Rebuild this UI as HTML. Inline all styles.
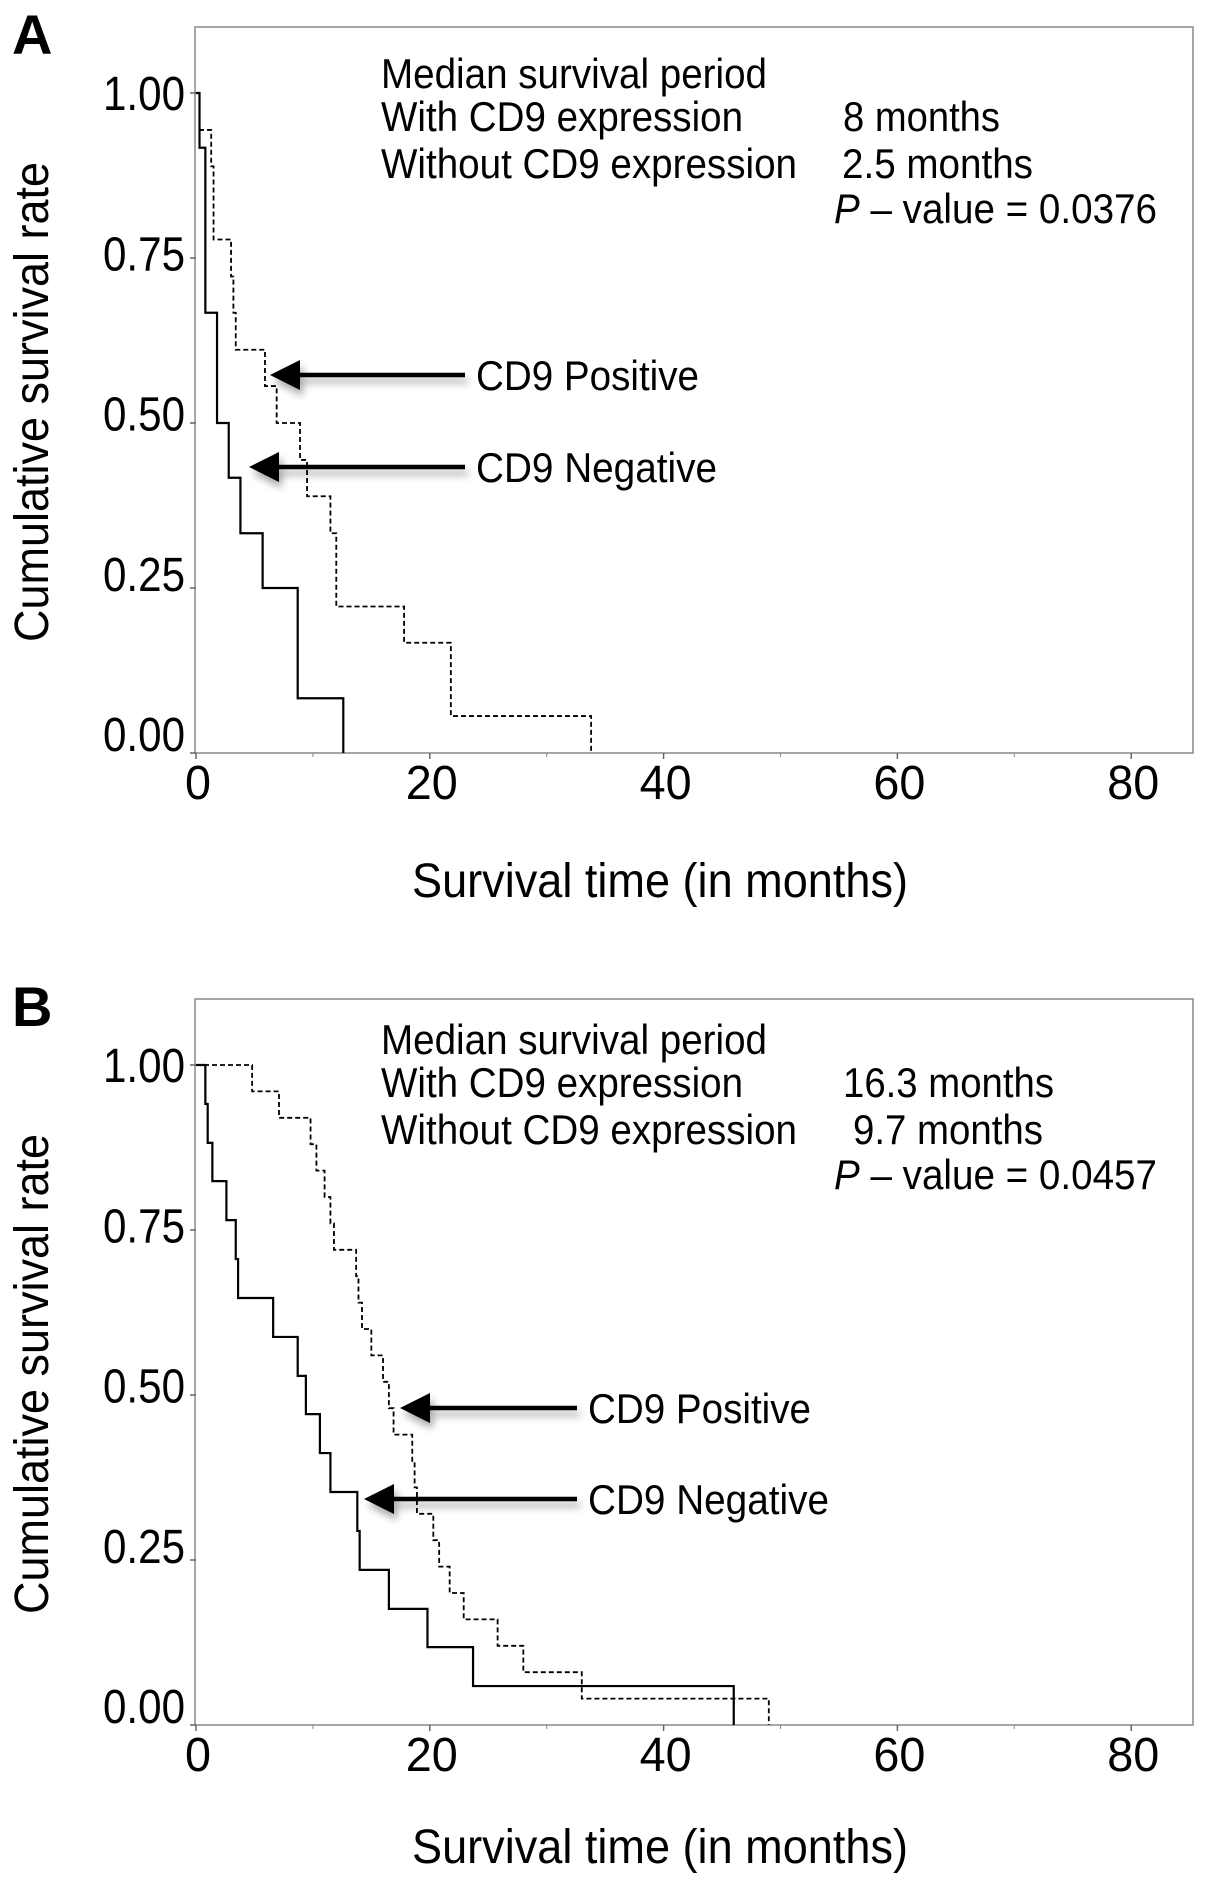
<!DOCTYPE html>
<html><head><meta charset="utf-8"><style>
html,body{margin:0;padding:0;background:#fff}
svg{display:block;font-family:"Liberation Sans",Arial,sans-serif}
</style></head><body>
<svg id="fig" width="1205" height="1883" viewBox="0 0 1205 1883" xmlns="http://www.w3.org/2000/svg">
<defs>
<filter id="sh" x="-20%" y="-100%" width="140%" height="400%"><feGaussianBlur in="SourceAlpha" stdDeviation="4"/><feOffset dx="3" dy="6"/><feComponentTransfer><feFuncA type="linear" slope="0.35"/></feComponentTransfer><feMerge><feMergeNode/><feMergeNode in="SourceGraphic"/></feMerge></filter>
</defs>
</svg>
<script>
// Panel A data
const aNegTimes = [0.3, 0.8, 1.8, 2.8, 3.8, 5.7, 8.7, 12.6];
const aNegSurv  = [0.917, 0.667, 0.5, 0.417, 0.333, 0.25, 0.083, 0];
const aPosTimes = [0.3, 1.3, 1.5, 3.0, 3.2, 3.4, 5.9, 6.9, 8.9, 9.5, 11.5, 12.0, 17.8, 21.8, 33.8];
const aPosSurv  = [0.944, 0.889, 0.778, 0.722, 0.667, 0.611, 0.556, 0.5, 0.444, 0.389, 0.333, 0.222, 0.167, 0.056, 0];
// Panel B data
const bNegTimes = [0.8, 1.0, 1.4, 2.6, 3.4, 3.6, 6.6, 8.7, 9.4, 10.6, 11.5, 13.8, 14.0, 16.5, 19.8, 23.7, 46.0];
const bNegSurv  = [0.941, 0.882, 0.824, 0.765, 0.706, 0.647, 0.588, 0.529, 0.471, 0.412, 0.353, 0.294, 0.235, 0.176, 0.118, 0.059, 0];
const bPosTimes = [4.8, 7.1, 9.8, 10.3, 11.0, 11.5, 11.8, 13.7, 13.9, 14.2, 15.0, 16.0, 16.5, 16.9, 18.5, 18.7, 18.9, 20.3, 20.8, 21.7, 22.9, 25.8, 28.0, 33.0, 49.0];
const bPosSurv  = [0.96, 0.92, 0.88, 0.84, 0.80, 0.76, 0.72, 0.68, 0.64, 0.60, 0.56, 0.52, 0.48, 0.44, 0.40, 0.36, 0.32, 0.28, 0.24, 0.20, 0.16, 0.12, 0.08, 0.04, 0];
// Axis ticks
const xTicks = [0, 20, 40, 60, 80];
const xMinorTicks = [10, 30, 50, 70];
const yTicks = [0, 0.25, 0.5, 0.75, 1.0];
const yTickLabels = ["0.00", "0.25", "0.50", "0.75", "1.00"];
// Annotation text
const aMedianPos = "8 months", aMedianNeg = "2.5 months", aP = "0.0376";
const bMedianPos = "16.3 months", bMedianNeg = "9.7 months", bP = "0.0457";

const NS = "http://www.w3.org/2000/svg";
const svg = document.getElementById('fig');
function mk(tag, attrs, parent){const e=document.createElementNS(NS,tag);for(const k in attrs)e.setAttribute(k,attrs[k]);(parent||svg).appendChild(e);return e;}

function panel(off, toff, letter, negT, negS, posT, posS, medPos, medNeg, pv, posArrow, negArrow, medPosX, medPosW, medNegX, medNegW){
  const g = mk('g',{});
  
  
  const X = t => 196 + t*11.69;
  const Y = v => off + 753 - v*660;
  const frame = mk('rect',{x:195,y:off+27,width:998,height:726,fill:'none',stroke:'#888','stroke-width':1.5},g);
  
  
  xTicks.forEach(t=>{
    const l=mk('line',{x1:X(t),x2:X(t),y1:Y(0),y2:Y(0)+6,stroke:'#666','stroke-width':1.5},g);
    
    
    const tx=mk('text',{x:X(t)+2,y:off+799,'font-size':48,'text-anchor':'middle',fill:'#000',textLength:(String(t).length*26),lengthAdjust:'spacingAndGlyphs'},g);
    tx.textContent=String(t);
    
    
  });
  xMinorTicks.forEach(t=>{
    const l=mk('line',{x1:X(t),x2:X(t),y1:Y(0),y2:Y(0)+4,stroke:'#888','stroke-width':1},g);
    
    
  });
  yTicks.forEach((v,i)=>{
    const l=mk('line',{x1:190,x2:196,y1:Y(v),y2:Y(v),stroke:'#666','stroke-width':1.5},g);
    
    
    const tx=mk('text',{x:185,y:off+110+(1-v)*641,'font-size':48,'text-anchor':'end',fill:'#000',textLength:82,lengthAdjust:'spacingAndGlyphs'},g);
    tx.textContent=yTickLabels[i];
    
    
  });
  function stepPath(ts, ss){
    let d='M'+X(0)+' '+Y(1); let cur=1;
    ts.forEach((t,i)=>{ d+=' L'+X(t)+' '+Y(cur)+' L'+X(t)+' '+Y(ss[i]); cur=ss[i]; });
    return d;
  }
  const neg=mk('path',{d:stepPath(negT,negS),fill:'none',stroke:'#000','stroke-width':2.2},g);
  
  
  const pos=mk('path',{d:stepPath(posT,posS),fill:'none',stroke:'#000','stroke-width':1.8,'stroke-dasharray':'5,3'},g);
  
  
  function arrow(tip, tail, y, label, w, name){
    const ag=mk('g',{filter:'url(#sh)'},g);
    
    
    mk('line',{x1:tip+20,x2:tail,y1:y,y2:y,stroke:'#000','stroke-width':4.5},ag);
    mk('polygon',{points:`${tip},${y} ${tip+30},${y-15} ${tip+30},${y+15}`,fill:'#000'},ag);
    const tx=mk('text',{x:tail+11,y:y+15,'font-size':42,fill:'#000',textLength:w,lengthAdjust:'spacingAndGlyphs'},g);
    tx.textContent=label;
    
    
  }
  arrow(posArrow[0],posArrow[1],off+posArrow[2],'CD9 Positive',223,'cd9-positive');
  arrow(negArrow[0],negArrow[1],off+negArrow[2],'CD9 Negative',241,'cd9-negative');
  const lines=[['Median survival period',381,88,386],['With CD9 expression',381,131,362],['Without CD9 expression',381,178,416]];
  lines.forEach(l=>{
    const tx=mk('text',{x:l[1],y:toff+l[2],'font-size':42,fill:'#000',textLength:l[3],lengthAdjust:'spacingAndGlyphs'},g);
    tx.textContent=l[0];
    
    
  });
  const m1=mk('text',{x:medPosX,y:toff+131,'font-size':42,fill:'#000',textLength:medPosW,lengthAdjust:'spacingAndGlyphs'},g);
  m1.textContent=medPos;
  
  
  const m2=mk('text',{x:medNegX,y:toff+178,'font-size':42,fill:'#000',textLength:medNegW,lengthAdjust:'spacingAndGlyphs'},g);
  m2.textContent=medNeg;
  
  
  const p=mk('text',{x:834,y:toff+223,'font-size':42,fill:'#000',textLength:323,lengthAdjust:'spacingAndGlyphs'},g);
  p.innerHTML='<tspan font-style="italic">P</tspan> – value = '+pv;
  
  
  const xt=mk('text',{x:660,y:toff+897,'font-size':48,'text-anchor':'middle',fill:'#000',textLength:496,lengthAdjust:'spacingAndGlyphs'},g);
  xt.textContent='Survival time (in months)';
  
  
  const yt=mk('text',{x:0,y:0,'font-size':48,'text-anchor':'middle',fill:'#000',textLength:480,lengthAdjust:'spacingAndGlyphs',transform:`translate(48,${off+402}) rotate(-90)`},g);
  yt.textContent='Cumulative survival rate';
  
  
  const pl=mk('text',{x:12,y:off+54,'font-size':56,'font-weight':'bold',fill:'#000'},g);
  pl.textContent=letter;
  
  
}
panel(0,0,'A',aNegTimes,aNegSurv,aPosTimes,aPosSurv,aMedianPos,aMedianNeg,aP,[270,465,375],[249,465,467],843,157,842,191);
panel(972,966,'B',bNegTimes,bNegSurv,bPosTimes,bPosSurv,bMedianPos,bMedianNeg,bP,[400,577,436],[364,577,527],843,211,853,190);
</script>
</body></html>
